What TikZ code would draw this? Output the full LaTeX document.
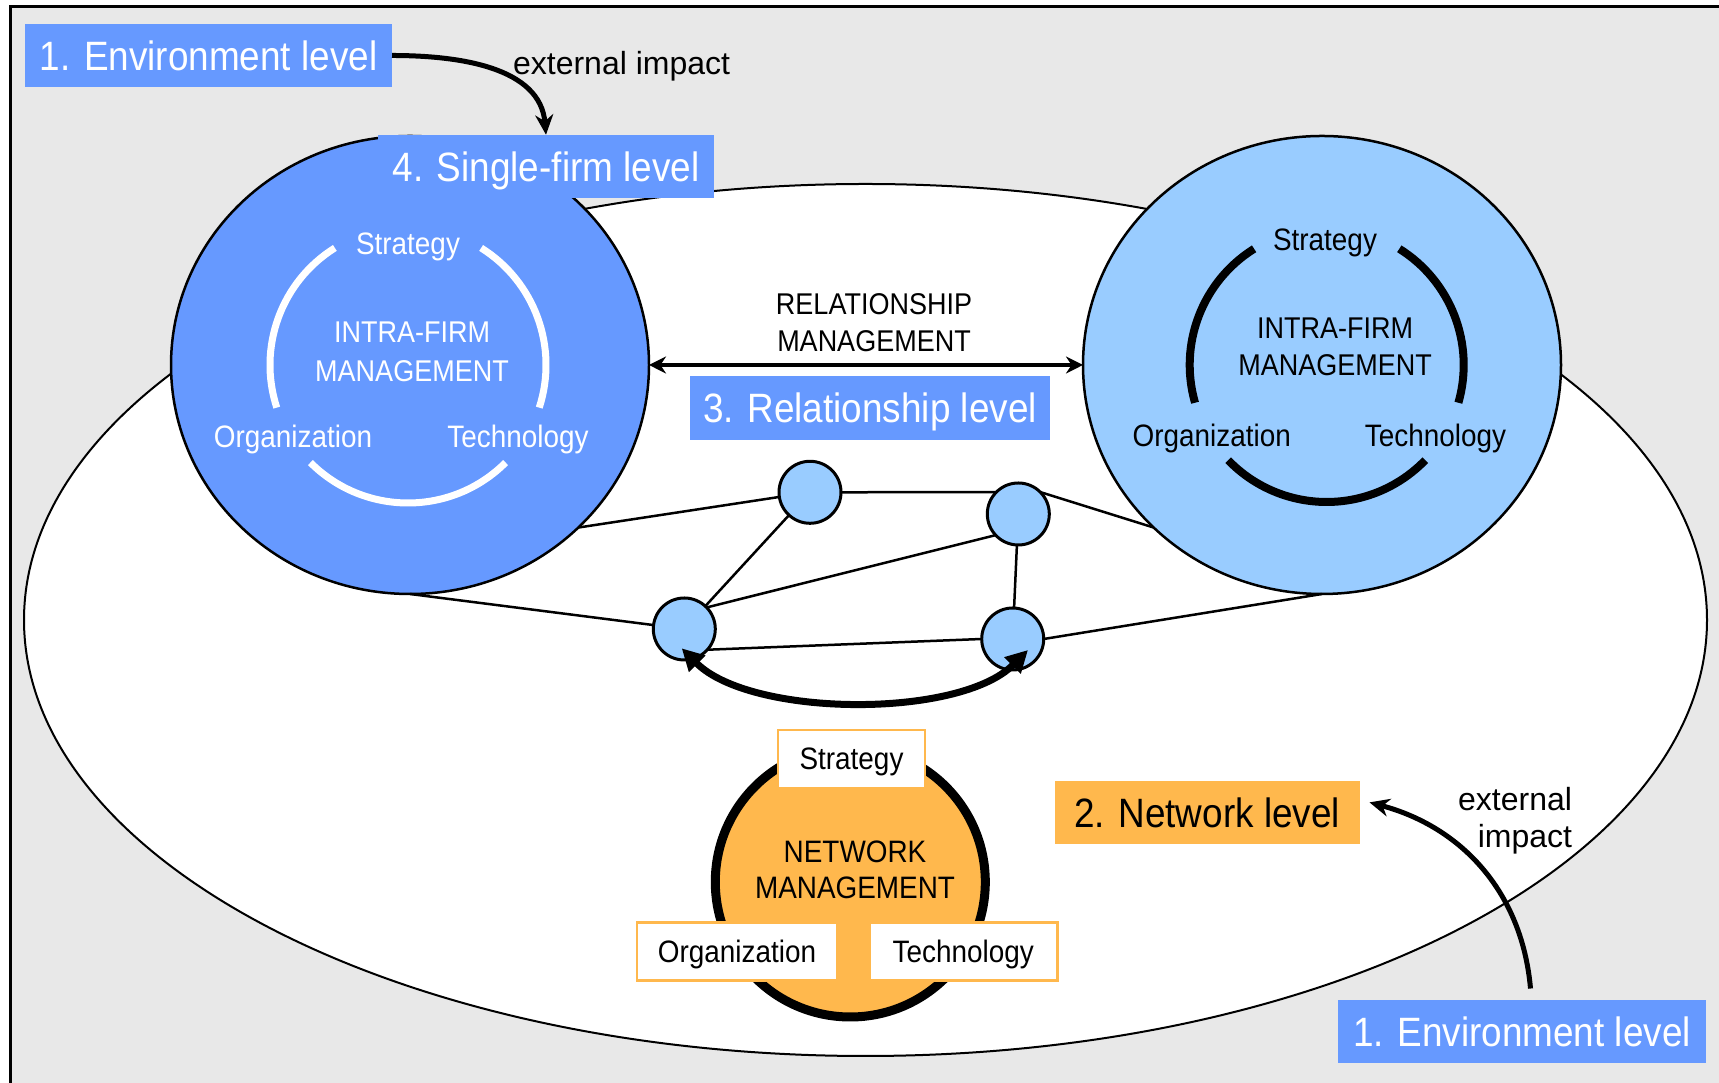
\documentclass[tikz,border=0pt]{standalone}
\usepackage{fontspec}
\setmainfont{Liberation Sans}[FakeStretch=0.9]
\newfontfamily\widesans{Liberation Sans}
\usetikzlibrary{shapes.geometric,arrows.meta}
\definecolor{levelblue}{HTML}{6699FF}
\definecolor{nodeblue}{HTML}{99CCFF}
\definecolor{netorange}{HTML}{FFB84D}
\definecolor{paper}{HTML}{E8E8E8}
\begin{document}
\begin{tikzpicture}[x=1pt,y=1pt,
  every node/.style={inner sep=0pt, outer sep=0pt},
  levelbox/.style={fill=levelblue, text=white, minimum height=63.5pt,
    text height=29.5pt, text depth=0pt, font=\fontsize{41}{49}\selectfont},
  firm/.style={ellipse, draw=black, line width=2.5pt,
    minimum width=478pt, minimum height=458pt},
  hub/.style={circle, draw=black, line width=3pt, fill=nodeblue, minimum size=62pt},
  link/.style={line width=2.5pt},
  facet/.style={font=\fontsize{31}{37}\selectfont},
  mgmt/.style={align=center},
  tagbox/.style={fill=white, draw=netorange, line width=2.5pt, minimum height=58pt,
    text height=22pt, text depth=0pt, font=\fontsize{31}{37}\selectfont},
  impact/.style={font=\widesans\fontsize{32}{37.7}\selectfont},
  bigarrow/.style={line width=5pt, -{Stealth[length=20pt,width=18pt]}},
]
\useasboundingbox (0,0) rectangle (1719,1083);
\fill[white] (0,0) rectangle (1719,1083);

% grey frame
\fill[paper] (10,0) rectangle (1719,1076);
\draw[line width=3pt] (10,0) -- (10,1076) -- (1719,1076);

% network field
\node[ellipse, draw=black, line width=2pt, fill=white,
      minimum width=1683pt, minimum height=872pt] (field) at (865.5,463) {};

% two firms
\node[firm, fill=levelblue] (L) at (410,718) {};
\node[firm, fill=nodeblue] (R) at (1322,718) {};

% intra-firm cycles
\coordinate (Lc) at (408,718);
\draw[white, line width=7pt] ([shift={(122:138pt)}]Lc) arc[start angle=122, end angle=198, radius=138pt];
\draw[white, line width=7pt] ([shift={(-18:138pt)}]Lc) arc[start angle=-18, end angle=58, radius=138pt];
\draw[white, line width=7pt] ([shift={(225:138pt)}]Lc) arc[start angle=225, end angle=315, radius=138pt];
\coordinate (Rc) at (1326.7,718);
\draw[black, line width=8pt] ([shift={(122:137pt)}]Rc) arc[start angle=122, end angle=196, radius=137pt];
\draw[black, line width=8pt] ([shift={(-16:137pt)}]Rc) arc[start angle=-16, end angle=58, radius=137pt];
\draw[black, line width=8pt] ([shift={(224:137pt)}]Rc) arc[start angle=224, end angle=316, radius=137pt];

\node[facet, text=white] (Lstr) at (408,836) {Strategy};
\node[mgmt, text=white, font=\fontsize{30}{39}\selectfont] (Lmg) at (412,730.8) {INTRA-FIRM\\MANAGEMENT};
\node[facet, text=white] (Lorg) at (293,644) {Organization};
\node[facet, text=white] (Ltec) at (518,644) {Technology};

\node[facet] (Rstr) at (1325,840) {Strategy};
\node[mgmt, font=\fontsize{30}{37}\selectfont] (Rmg) at (1335,736.3) {INTRA-FIRM\\MANAGEMENT};
\node[facet] (Rorg) at (1211.7,645) {Organization};
\node[facet] (Rtec) at (1435.5,645) {Technology};

% relationship between the firms
\node[mgmt, font=\fontsize{30}{36.7}\selectfont] (relm) at (874,760.5) {RELATIONSHIP\\MANAGEMENT};
\draw[line width=4pt, {Stealth[length=17pt,width=17pt]}-{Stealth[length=17pt,width=17pt]}] (L.east) -- (R.west);

% network of partners
\node[hub] (n1) at (810,590.7) {};
\node[hub] (n2) at (1018.3,569) {};
\node[hub] (n3) at (684.3,454) {};
\node[hub] (n4) at (1012.7,444) {};
\draw[link] (L.-44) -- (n1);
\draw[link] (L.south) -- (n3);
\draw[link] (n1.east) -- (n2.135);
\draw[link] (n2.45) -- (R.224);
\draw[link] (n1) -- (n3);
\draw[link] (n3.44) -- (n2.223);
\draw[link] (n2) -- (n4);
\draw[link] (n3.-42) -- (n4.west);
\draw[link] (n4.east) -- (R.south);
\coordinate (t3) at ([shift={(-2.6pt,-19.3pt)}]n3.center);
\coordinate (t4) at ([shift={(15.3pt,-11pt)}]n4.center);
\draw[line width=7pt, {Triangle[length=22pt,width=22pt]}-{Triangle[length=22pt,width=22pt]}]
  (t3) to[out=-45, in=-135, looseness=0.72] (t4);

% network management
\node[circle, draw=black, line width=9pt, fill=netorange, minimum size=270pt] (nm) at (850.3,201) {};
\node[mgmt, font=\fontsize{31}{36.6}\selectfont] (nmtext) at (855,213) {NETWORK\\MANAGEMENT};
\node[tagbox, minimum width=147pt] (nstr) at (851.5,324) {Strategy};
\node[tagbox, minimum width=200pt] (norg) at (737,131.3) {Organization};
\node[tagbox, minimum width=188pt] (ntec) at (963.3,131.3) {Technology};

% level labels
\node[levelbox, minimum width=367pt] (env1) at (208.5,1027.5) {1. Environment level};
\node[levelbox, minimum width=336pt] (sf) at (546,916.5) {4. Single-firm level};
\node[levelbox, minimum width=360.5pt] (rel) at (870,675) {3. Relationship level};
\node[levelbox, minimum width=305pt, fill=netorange, text=black] (net) at (1207,270.6) {2. Network level};
\node[levelbox, minimum width=368.7pt] (env2) at (1522,51.7) {1. Environment level};

% external impacts
\node[impact] (ext1) at (621.6,1017) {external impact};
\draw[bigarrow] (env1.east) to[out=0, in=95] (sf.north);
\node[impact, align=right, anchor=east] (ext2) at (1572,262.3) {external\\impact};
\draw[bigarrow] ([shift={(8.5pt,11pt)}]env2.north) to[out=95, in=-15] ([shift={(10pt,10pt)}]net.east);
\end{tikzpicture}
\end{document}
